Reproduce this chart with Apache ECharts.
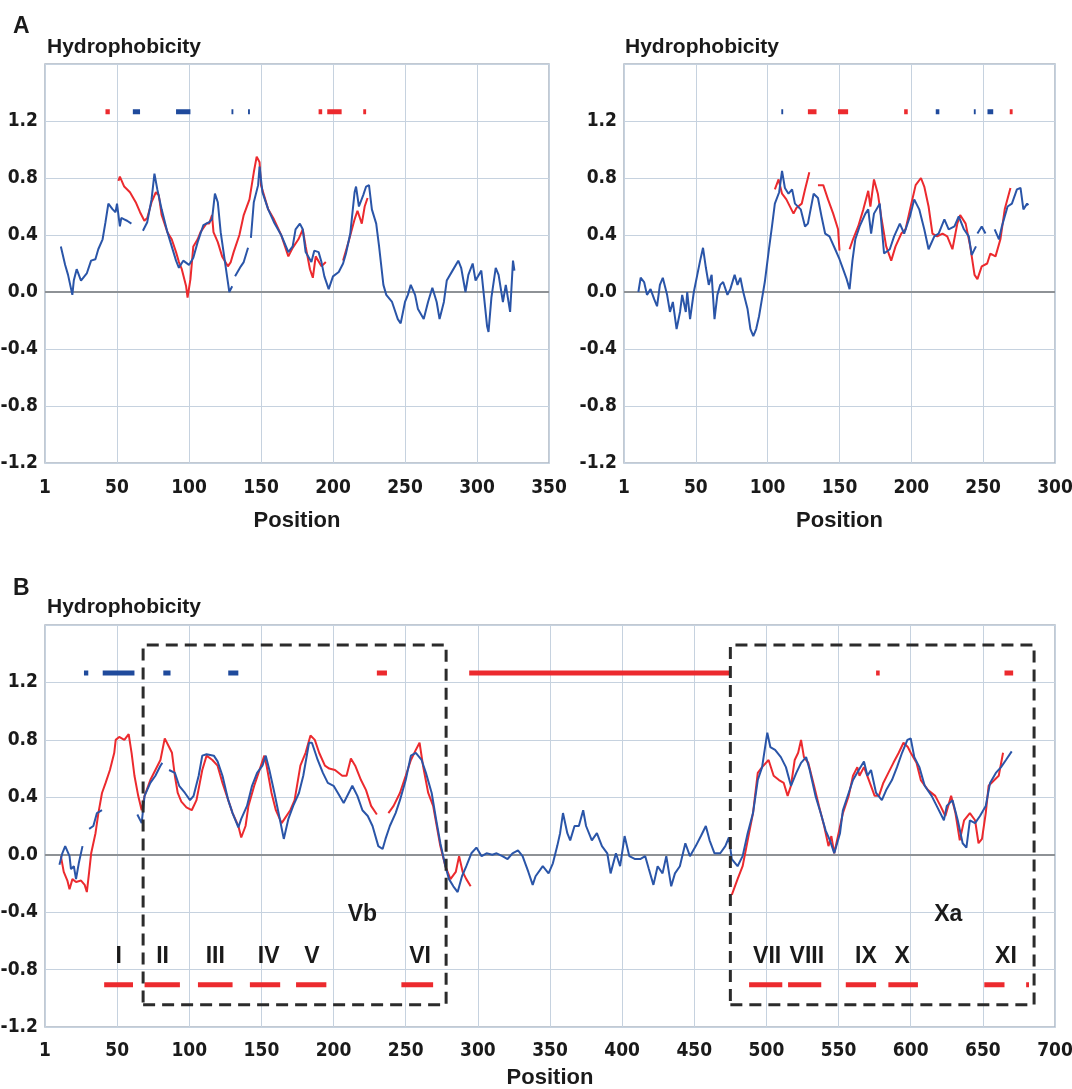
<!DOCTYPE html>
<html>
<head>
<meta charset="utf-8">
<script src="https://cdn.jsdelivr.net/npm/echarts@6/dist/echarts.min.js"></script>
<style>
  html, body { margin: 0; padding: 0; background: #fff; }
  #container { width: 1072px; height: 1089px; }
</style>
</head>
<body>
<div id="container"></div>
<script>
// ---- data (position, hydrophobicity); null = gap in the profile ----
var aLeftBlue = [[11,0.32],[14,0.19],[16,0.12],[19,-0.02],[20,0.08],[22,0.16],[25,0.08],[29,0.13],[32,0.22],[35,0.23],[37,0.3],[40,0.37],[42,0.49],[44,0.62],[47,0.58],[49,0.56],[50,0.62],[52,0.46],[53,0.52],[55,0.51],[57,0.5],[60,0.48],null,
  [68,0.43],[71,0.49],[74,0.65],[76,0.83],[78,0.72],[81,0.58],[85,0.42],[88,0.32],[91,0.22],[93,0.17],[96,0.22],[100,0.19],[103,0.24],[106,0.35],[110,0.47],[114,0.49],[116,0.51],[118,0.69],[120,0.63],[122,0.42],[124,0.28],[127,0.07],[128,0.0],[130,0.04],null,
  [132,0.11],[136,0.18],[138,0.21],[141,0.31],null,
  [143,0.38],[145,0.63],[148,0.75],[149,0.88],[151,0.7],[155,0.58],[159,0.49],[164,0.4],[169,0.28],[172,0.32],[174,0.44],[177,0.48],[179,0.44],[181,0.28],[185,0.21],[187,0.29],[190,0.28],[192,0.21],[194,0.11],[197,0.02],[200,0.11],[204,0.14],[207,0.2],[209,0.27],[212,0.41],[215,0.7],[216,0.74],[218,0.6],[221,0.68],[223,0.74],[225,0.75],[227,0.58],[230,0.48],[232,0.32],[235,0.05],[237,-0.02],[241,-0.07],[245,-0.19],[247,-0.22],[250,-0.07],[252,-0.02],[254,0.05],[257,-0.02],[259,-0.12],[263,-0.19],[266,-0.07],[269,0.03],[272,-0.07],[274,-0.19],[277,-0.07],[279,0.08],[283,0.15],[287,0.22],[289,0.17],[292,0.0],[294,0.12],[297,0.2],[299,0.08],[303,0.15],[307,-0.24],[308,-0.28],[310,-0.04],[313,0.17],[315,0.12],[318,-0.07],[320,0.05],[323,-0.14],[325,0.22],[326,0.15]];
var aLeftRed = [[51,0.78],[52,0.81],[55,0.74],[59,0.7],[63,0.63],[66,0.56],[69,0.5],[71,0.52],[74,0.63],[77,0.7],[79,0.68],[81,0.54],[85,0.42],[88,0.37],[91,0.28],[93,0.21],[95,0.16],[98,0.04],[99,-0.04],[101,0.09],[103,0.32],[106,0.37],[108,0.42],[112,0.48],[114,0.48],[116,0.54],[117,0.42],[120,0.35],[123,0.25],[127,0.18],[129,0.21],[131,0.28],[135,0.4],[138,0.54],[142,0.65],[145,0.84],[147,0.95],[149,0.91],[150,0.75],[155,0.58],[159,0.51],[164,0.4],[169,0.25],[172,0.31],[176,0.37],[179,0.44],[181,0.32],[184,0.16],[186,0.1],[188,0.25],[192,0.18],[195,0.21],null,
  [207,0.22],[211,0.36],[215,0.51],[217,0.57],[220,0.48],[222,0.6],[224,0.66]];
var aLeftTopBlue = [[61,66],[91,101],[129.5,130.8],[141,142.3]];
var aLeftTopRed = [[42,45],[190,192.5],[196,206],[221,223]];

var aRightBlue = [[10,0.0],[11.6,0.1],[14,0.07],[16,-0.02],[18.5,0.02],[21,-0.05],[23,-0.1],[25,0.05],[27,0.1],[30,-0.02],[32,-0.14],[34,-0.07],[36.6,-0.26],[39,-0.14],[40.5,-0.02],[43,-0.14],[44,0],[46,-0.19],[48.6,0],[51,0.12],[53,0.22],[55,0.31],[57,0.17],[59,0.05],[61,0.12],[63,-0.19],[65,-0.02],[67,0.05],[69,0.07],[72,-0.02],[74,0.02],[77,0.12],[79,0.05],[81,0.1],[83,0],[86,-0.12],[88,-0.26],[90,-0.31],[92,-0.26],[94,-0.17],[96,-0.05],[98,0.07],[101,0.31],[103,0.46],[105,0.62],[108,0.7],[110,0.85],[112,0.73],[114.5,0.69],[117,0.72],[119,0.62],[123,0.58],[126,0.46],[128,0.48],[132,0.69],[135,0.66],[137.5,0.53],[140,0.41],[143,0.39],[147,0.3],[150,0.23],[152.5,0.16],[155,0.09],[157,0.02],[159,0.22],[161,0.37],[164,0.46],[168,0.55],[170,0.58],[172,0.41],[174,0.55],[178,0.62],[181,0.27],[185,0.3],[188,0.39],[192,0.48],[195,0.41],[199,0.53],[202,0.65],[205.5,0.58],[209,0.44],[212,0.3],[216,0.39],[219,0.41],[223,0.51],[226,0.44],[230,0.46],[233,0.53],[236.6,0.44],[240,0.39],[242,0.26],[245,0.32],null,
  [246,0.41],[249,0.46],[251.6,0.41],null,
  [258,0.44],[261,0.37],[263,0.46],[267,0.6],[270,0.62],[273.5,0.72],[276,0.73],[278,0.58],[280.6,0.62],[281.5,0.61]];
var aRightRed = [[105,0.72],[107.6,0.79],[110,0.69],[113,0.65],[118,0.55],[120,0.59],[123.7,0.62],[126,0.72],[129,0.84],null,
  [135,0.75],[138.7,0.75],[142,0.65],[145.6,0.55],[149,0.44],[150,0.29],null,
  [157,0.3],[159.4,0.37],[163,0.46],[166.6,0.58],[170,0.71],[171.5,0.6],[174,0.79],[176.7,0.69],[179,0.53],[182.5,0.32],[186,0.22],[189,0.32],[193,0.41],[196,0.44],[200,0.62],[203,0.75],[206.7,0.8],[209,0.74],[212,0.6],[214.7,0.41],[218,0.39],[221.7,0.41],[225,0.39],[228.6,0.3],[232,0.48],[234,0.54],[237.8,0.48],[241,0.32],[244,0.12],[246,0.09],[249,0.18],[252.8,0.2],[255,0.27],[258.6,0.25],[262,0.37],[265,0.58],[269,0.73]];
var aRightTopBlue = [[109.5,110.8],[217,219.5],[243.5,244.8],[253,257]];
var aRightTopRed = [[128,134],[149,156],[195,197.5],[268.5,270.5]];

var bBlue = [[10,-0.07],[12,0.01],[14,0.06],[17,-0.01],[18,-0.1],[20,-0.08],[21.5,-0.17],[23.4,-0.06],[26,0.06],null,
  [30.6,0.18],[33.5,0.2],[36,0.29],[39.5,0.31],null,
  [64,0.28],[67,0.22],[69,0.41],[73,0.5],[76.5,0.55],[80,0.62],[81.3,0.64],null,
  [86,0.59],[90,0.57],[93,0.48],[97,0.43],[100.5,0.38],[103,0.41],[106.5,0.55],[109,0.69],[112,0.7],[117,0.69],[119.6,0.65],[123,0.55],[127,0.38],[130,0.29],[134,0.19],[136,0.25],[140,0.34],[143.5,0.48],[147,0.57],[150.7,0.62],[153,0.69],[155.5,0.59],[159,0.43],[162.7,0.25],[165.5,0.11],[168.7,0.25],[172,0.34],[176,0.43],[179,0.55],[183,0.78],[185,0.78],[189,0.66],[192.6,0.57],[196,0.5],[200,0.48],[203,0.43],[207,0.36],[210.5,0.43],[213,0.48],[216.5,0.41],[220,0.31],[223.7,0.27],[227,0.2],[231,0.06],[234,0.04],[236,0.11],[239,0.2],[243,0.29],[246,0.38],[250,0.52],[253.6,0.69],[257,0.71],[261,0.66],[264,0.57],[268,0.43],[271,0.25],[274,0.08],[277.5,-0.08],[280,-0.17],[283,-0.22],[286,-0.26],[289,-0.15],[292,-0.08],[295.5,0.01],[299,0.05],[302.6,-0.01],[306,0.01],[310,0],[313,0.01],[317,-0.01],[320.6,-0.03],[324,0.01],[327.8,0.03],[331,-0.01],[335,-0.12],[338,-0.21],[340,-0.15],[345,-0.08],[349,-0.13],[352,-0.06],[355,0.06],[357,0.15],[359,0.29],[362,0.15],[364,0.1],[367,0.2],[370,0.2],[373,0.31],[375,0.2],[379,0.1],[382.5,0.15],[386,0.06],[389.7,0.01],[392,-0.13],[395.7,0.01],[398.6,-0.08],[401.7,0.13],[405,-0.01],[409,-0.03],[412.5,-0.03],[416,-0.01],[418.5,-0.1],[421.7,-0.21],[424.6,-0.08],[428,-0.13],[430.6,-0.01],[434,-0.22],[436.6,-0.13],[440,-0.08],[443.8,0.08],[447,-0.01],[451,0.06],[454.6,0.13],[458,0.2],[460.6,0.1],[464,0.01],[468,0.01],[471.5,0.06],[474,0.12],[476,-0.03],[480,-0.08],[483.5,-0.01],[487,0.15],[490.7,0.29],[494,0.52],[497,0.61],[500.6,0.85],[502.7,0.75],[506,0.73],[510,0.68],[513.5,0.61],[517,0.48],[520.7,0.57],[524,0.64],[527.5,0.68],[530,0.59],[534,0.41],[537.6,0.29],[541,0.17],[544,0.1],[547,0.01],[551,0.15],[553,0.31],[557,0.43],[560,0.52],[564,0.59],[567.6,0.65],[570,0.55],[572.5,0.59],[576,0.43],[580,0.38],[583,0.45],[587,0.52],[590.5,0.61],[594,0.71],[597.7,0.8],[600,0.81],[602.5,0.68],[606,0.61],[609.7,0.48],[614.5,0.41],[618,0.34],[623,0.24],[625,0.34],[629,0.38],[632.6,0.24],[636,0.08],[638.6,0.05],[641,0.24],[644.6,0.22],[648,0.27],[652,0.34],[655,0.5],[659,0.57],[662.6,0.61],[666,0.66],[670,0.72]];
var bRed = [[11,-0.01],[13,-0.12],[15.5,-0.18],[17,-0.24],[19,-0.17],[21.5,-0.19],[25,-0.18],[27.5,-0.21],[29,-0.26],[30.6,-0.12],[32,0.01],[35,0.15],[37,0.29],[39.5,0.43],[42,0.5],[45,0.59],[48,0.71],[49,0.8],[51.4,0.82],[55,0.8],[58,0.84],[60,0.71],[62,0.55],[64.6,0.41],[67,0.31],[69,0.41],[73,0.52],[76.5,0.59],[80,0.66],[83,0.81],[86,0.75],[88,0.71],[90,0.55],[92,0.43],[94.5,0.37],[98,0.33],[101.7,0.31],[105,0.38],[109,0.59],[112,0.69],[116,0.66],[119.6,0.62],[123,0.5],[127,0.38],[130,0.29],[134,0.2],[136,0.12],[139,0.2],[141,0.34],[145,0.48],[148,0.57],[152,0.69],[153.6,0.62],[157,0.43],[160,0.31],[164,0.22],[166,0.25],[170,0.31],[173,0.38],[177,0.62],[180.6,0.71],[184,0.83],[187,0.8],[190,0.71],[194,0.62],[197,0.6],[201,0.59],[206,0.55],[209,0.55],[212,0.67],[215,0.62],[219,0.52],[222.5,0.45],[226,0.34],[230,0.28],null,
  [238,0.29],[241.6,0.34],[246,0.43],[250,0.55],[253.6,0.66],[257,0.73],[259.6,0.78],[262,0.62],[265.6,0.43],[269,0.34],[271.5,0.2],[274,0.06],[277.5,-0.08],[281,-0.17],[284.7,-0.12],[287,-0.01],[289.5,-0.12],[292,-0.17],[295,-0.22],null,
  [476,-0.28],[480,-0.17],[483.5,-0.08],[487,0.1],[490.7,0.29],[494,0.57],[497,0.61],[501.5,0.66],[505,0.55],[508.7,0.52],[512,0.5],[514.7,0.41],[517,0.48],[519.6,0.66],[522,0.71],[524,0.8],[526,0.68],[529,0.64],[533,0.48],[536.4,0.34],[540,0.2],[543,0.06],[545,0.13],[547,0.01],[549.6,0.13],[553,0.29],[557,0.41],[560,0.55],[563,0.61],[564.5,0.55],[567.6,0.61],[571,0.52],[575,0.41],[578,0.41],[581,0.5],[584.5,0.57],[588,0.64],[591.7,0.71],[595,0.78],[598,0.75],[600,0.71],[604,0.64],[607,0.52],[612,0.45],[617,0.41],[620.6,0.34],[624,0.27],[628,0.41],[631,0.29],[634,0.1],[637,0.24],[641,0.29],[644.6,0.24],[647,0.08],[649.4,0.11],[652,0.29],[654,0.48],[658,0.52],[661,0.55],[664,0.71]];
var bTopBlue = [[27,30],[40,62],[82,87],[127,134]];
var bTopRed = [[230,237],[294,475],[576,578.5],[665,671]];
var bSegments = [[41,61],[69,93.5],[106,130],[142,163],[174,195],[247,269],[488,511],[515,538],[555,576],[584.5,605],[651,665],[680,682]];
var segmentNames = ['I','II','III','IV','V','VI','VII','VIII','IX','X','XI'];
var segmentLabelPos = [51,81.5,118,155,185,260,500.5,528,569,594,666];
var domainNames = ['Vb','Xa'];
var domainLabelPos = [220,626];
var vbBox = [68,278,-1.045,1.46];
var xaBox = [475,685.5,-1.045,1.46];
var topMarkY = 1.265;
var segmentY = -0.905;
var segmentLabelY = -0.71;
var domainLabelY = -0.415;

var BLUE = '#2a55a8', RED = '#ec2a2e', NAVY = '#1f4a9c';
var NARROW = "'Liberation Sans Narrow','DejaVu Sans Condensed',Arial,sans-serif";
var WIDE = "'Liberation Sans',Arial,sans-serif";

function gaps(pairs) {
    return pairs.map(function (p) { return p === null ? '-' : p; });
}
function ranges(list, y) {
    var out = [];
    list.forEach(function (r) { out.push([r[0], y], [r[1], y], '-'); });
    return out;
}
function box(b) {
    return [[b[0], b[2]], [b[1], b[2]], [b[1], b[3]], [b[0], b[3]], [b[0], b[2]]];
}
function profile(idx, data, color, z) {
    return {type: 'line', xAxisIndex: idx, yAxisIndex: idx, data: gaps(data), showSymbol: false,
        connectNulls: false, z: z, lineStyle: {color: color, width: 2}, silent: true, animation: false};
}
function marks(idx, list, y, color, w) {
    return {type: 'line', xAxisIndex: idx, yAxisIndex: idx, data: ranges(list, y), showSymbol: false,
        connectNulls: false, z: 4, lineStyle: {color: color, width: w, cap: 'butt'}, silent: true, animation: false};
}
function zeroLine(idx) {
    return {type: 'line', xAxisIndex: idx, yAxisIndex: idx, data: [], silent: true, animation: false,
        markLine: {symbol: 'none', silent: true, label: {show: false}, animation: false,
            lineStyle: {color: '#8e9296', width: 2, type: 'solid'}, data: [{yAxis: 0}]}};
}

var grids = [
    {left: 45, top: 64, width: 504, height: 399},
    {left: 624, top: 64, width: 431, height: 399},
    {left: 45, top: 625, width: 1010, height: 402}
];
grids.forEach(function (g) {
    g.show = true; g.borderColor = '#aeb8c4'; g.borderWidth = 1.5;
    g.containLabel = false; g.outerBoundsMode = 'none';
});

var xMax = [350, 300, 700];
var nameGaps = [47, 47, 40];
var labelMargins = [16, 16, 15];
var xAxes = xMax.map(function (m, i) {
    return {type: 'value', gridIndex: i, min: 0, max: m, interval: 50,
        name: 'Position', nameLocation: 'middle', nameGap: nameGaps[i],
        nameTextStyle: {fontFamily: WIDE, fontWeight: 'bold', fontSize: 22, color: '#1a1a1a'},
        axisLine: {show: false}, axisTick: {show: false},
        axisLabel: {margin: labelMargins[i], fontFamily: NARROW, fontWeight: 'bold', fontSize: 19, color: '#1a1a1a',
            formatter: function (v) { return v === 0 ? '1' : String(v); }},
        splitLine: {show: true, lineStyle: {color: '#c6d2df', width: 1}}};
});
var yAxes = [0, 1, 2].map(function (i) {
    return {type: 'value', gridIndex: i, min: -1.2, max: 1.6, interval: 0.4,
        axisLine: {show: false}, axisTick: {show: false},
        axisLabel: {margin: 7, fontFamily: NARROW, fontWeight: 'bold', fontSize: 19, color: '#1a1a1a',
            formatter: function (v) { return v > 1.5 ? '' : v.toFixed(1); }},
        splitLine: {show: true, lineStyle: {color: '#c6d2df', width: 1}}};
});

var series = [
    zeroLine(0), zeroLine(1), zeroLine(2),
    profile(0, aLeftRed, RED, 5), profile(0, aLeftBlue, BLUE, 6),
    marks(0, aLeftTopRed, topMarkY, RED, 5), marks(0, aLeftTopBlue, topMarkY, NAVY, 5),
    profile(1, aRightRed, RED, 5), profile(1, aRightBlue, BLUE, 6),
    marks(1, aRightTopRed, topMarkY, RED, 5), marks(1, aRightTopBlue, topMarkY, NAVY, 5),
    profile(2, bRed, RED, 5), profile(2, bBlue, BLUE, 6),
    marks(2, bTopRed, topMarkY, RED, 5), marks(2, bTopBlue, topMarkY, NAVY, 5),
    marks(2, bSegments, segmentY, RED, 5),
    {type: 'line', xAxisIndex: 2, yAxisIndex: 2, data: box(vbBox).concat(['-'], box(xaBox)), showSymbol: false,
        connectNulls: false, z: 7, silent: true, animation: false,
        lineStyle: {color: '#2b2b2b', width: 3, type: [12, 7]}},
    {type: 'scatter', xAxisIndex: 2, yAxisIndex: 2, symbolSize: 0, z: 8, silent: true, animation: false,
        itemStyle: {opacity: 1},
        label: {show: true, position: 'inside', formatter: '{b}', fontFamily: WIDE, fontWeight: 'bold',
            fontSize: 23, color: '#1a1a1a', opacity: 1},
        data: segmentNames.map(function (n, i) { return {name: n, value: [segmentLabelPos[i], segmentLabelY]}; })
            .concat(domainNames.map(function (n, i) { return {name: n, value: [domainLabelPos[i], domainLabelY]}; }))}
];

var titleFont = 'bold 21px ' + WIDE;
var option = {
    backgroundColor: '#ffffff',
    animation: false,
    grid: grids,
    xAxis: xAxes,
    yAxis: yAxes,
    series: series,
    graphic: [
        {type: 'text', left: 13, top: 15, style: {text: 'A', font: 'bold 23px ' + WIDE, fill: '#1a1a1a'}},
        {type: 'text', left: 47, top: 37, style: {text: 'Hydrophobicity', font: titleFont, fill: '#1a1a1a'}},
        {type: 'text', left: 625, top: 37, style: {text: 'Hydrophobicity', font: titleFont, fill: '#1a1a1a'}},
        {type: 'text', left: 13, top: 577, style: {text: 'B', font: 'bold 23px ' + WIDE, fill: '#1a1a1a'}},
        {type: 'text', left: 47, top: 597, style: {text: 'Hydrophobicity', font: titleFont, fill: '#1a1a1a'}}
    ]
};

var myChart = echarts.init(document.getElementById('container'), null, {renderer: 'canvas'});
myChart.setOption(option);
</script>
</body>
</html>
